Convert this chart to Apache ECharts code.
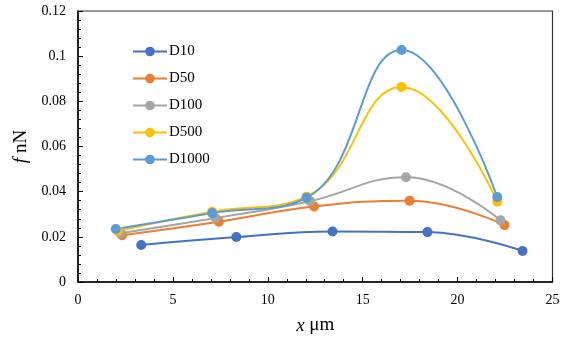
<!DOCTYPE html>
<html>
<head>
<meta charset="utf-8">
<script src="https://cdn.jsdelivr.net/npm/echarts@6/dist/echarts.min.js"></script>
<style>html,body{margin:0;padding:0;background:#fff}#c{width:566px;height:341px}</style>
</head>
<body>
<div id="c"></div>
<script>
const seriesNames = ['D10', 'D50', 'D100', 'D500', 'D1000'];
const colors = ['#4472C4', '#ED7D31', '#A5A5A5', '#FFC000', '#5B9BD5'];
const D10 = [[3.33, 0.0164], [8.34, 0.0199], [13.41, 0.0224], [18.41, 0.0221], [23.42, 0.0137]];
const D50 = [[2.32, 0.0207], [7.42, 0.0267], [12.44, 0.0334], [17.47, 0.0360], [22.47, 0.0252]];
const D100 = [[2.23, 0.0216], [7.25, 0.0283], [12.23, 0.0358], [17.28, 0.0464], [22.26, 0.0273]];
const D500 = [[2.09, 0.0226], [7.07, 0.0311], [12.04, 0.0378], [17.05, 0.0864], [22.09, 0.0356]];
const D1000 = [[1.99, 0.0235], [7.07, 0.0305], [12.04, 0.0373], [17.05, 0.1027], [22.09, 0.0376]];
const allData = [D10, D50, D100, D500, D1000];
const xTicks = [0, 5, 10, 15, 20, 25];
const yTicks = [0, 0.02, 0.04, 0.06, 0.08, 0.1, 0.12];

const font = 'Liberation Serif, Times New Roman, serif';
const chart = echarts.init(document.getElementById('c'), null, {renderer: 'canvas'});
chart.setOption({
  animation: false,
  grid: {left: 78, right: 13.5, top: 11, bottom: 59, show: true, borderColor: '#333', borderWidth: 1.2},
  legend: {
    orient: 'vertical', left: 127, top: 39, itemWidth: 34, itemHeight: 12, itemGap: 12,
    textStyle: {fontFamily: font, fontSize: 15, color: '#000', padding: [0, 0, 0, -3]},
    data: seriesNames
  },
  xAxis: {
    type: 'value', min: xTicks[0], max: xTicks[xTicks.length - 1], interval: 5,
    axisLine: {lineStyle: {color: '#000', width: 1.5}},
    axisTick: {inside: true, length: 5, lineStyle: {color: '#000'}},
    minorTick: {show: true, splitNumber: 5, length: 3, lineStyle: {color: '#000'}},
    splitLine: {show: false},
    axisLabel: {fontFamily: font, fontSize: 14, color: '#000', margin: 11},
    name: '{i|x} μm', nameLocation: 'middle', nameGap: 34,
    nameTextStyle: {fontFamily: font, fontSize: 19, color: '#000', rich: {i: {fontStyle: 'italic', fontFamily: font, fontSize: 19}}}
  },
  yAxis: {
    type: 'value', min: yTicks[0], max: yTicks[yTicks.length - 1], interval: 0.02,
    axisLine: {show: true, lineStyle: {color: '#000', width: 1.5}},
    axisTick: {show: true, inside: true, length: 5, lineStyle: {color: '#000'}},
    minorTick: {show: true, splitNumber: 5, length: 3, lineStyle: {color: '#000'}},
    splitLine: {show: false},
    axisLabel: {fontFamily: font, fontSize: 14, color: '#000', margin: 12},
    name: '{i|f} nN', nameLocation: 'middle', nameGap: 42,
    nameTextStyle: {fontFamily: font, fontSize: 19, color: '#000', rich: {i: {fontStyle: 'italic', fontFamily: font, fontSize: 19}}}
  },
  series: seriesNames.map((n, i) => ({
    name: n, type: 'line', data: allData[i], smooth: 0.45,
    symbol: 'circle', symbolSize: 10,
    itemStyle: {color: colors[i]},
    lineStyle: {color: colors[i], width: 2}
  }))
});
</script>
</body>
</html>
